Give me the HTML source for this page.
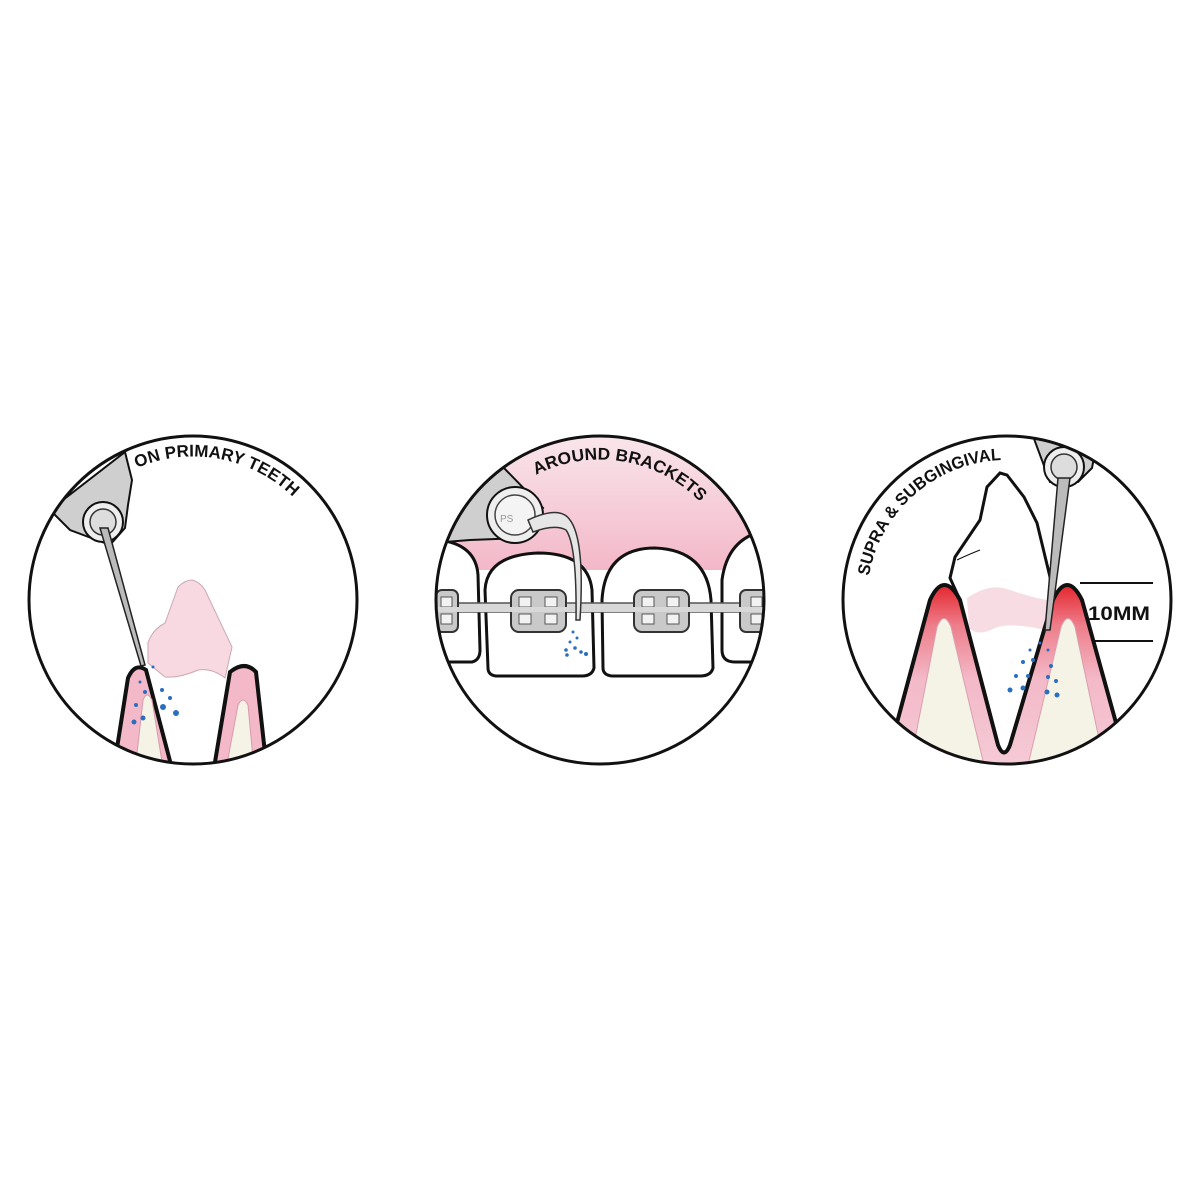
<!DOCTYPE html>
<html><head><meta charset="utf-8"><style>html,body{margin:0;padding:0;background:#fff}svg{display:block}</style></head>
<body>
<svg width="1200" height="1200" viewBox="0 0 1200 1200" xmlns="http://www.w3.org/2000/svg" font-family="Liberation Sans, sans-serif">
<defs>
<clipPath id="c1"><circle cx="193" cy="600" r="164"/></clipPath>
<clipPath id="c2"><circle cx="600" cy="600" r="164"/></clipPath>
<clipPath id="c3"><circle cx="1007" cy="600" r="164"/></clipPath>
<linearGradient id="redg" gradientUnits="userSpaceOnUse" x1="0" y1="580" x2="0" y2="760">
<stop offset="0" stop-color="#e21b22"/><stop offset="0.25" stop-color="#ee7d8a"/><stop offset="0.55" stop-color="#f3b9c8"/><stop offset="1" stop-color="#f5c9d5"/></linearGradient>
<linearGradient id="gum2" gradientUnits="userSpaceOnUse" x1="0" y1="440" x2="0" y2="570"><stop offset="0" stop-color="#f9e4ea"/><stop offset="1" stop-color="#f3b8c8"/></linearGradient>
<path id="t1" d="M137,468 A143,143 0 0 1 317,528"/>
<path id="t2" d="M536,475 A140,140 0 0 1 704,506"/>
<path id="t3" d="M869,576 A140,140 0 0 1 1012,460"/>
</defs>

<!-- LEFT -->
<g clip-path="url(#c1)">
<path d="M178,587 Q185,580 192,580 Q200,582 205,590 L232,647 L225,678 Q212,668 198,670 Q180,678 165,677 L148,663 L148,643 Q152,630 165,623 Z" fill="#f8d9e2" stroke="#c9a9b3" stroke-width="1"/>
<path d="M112,780 L128,678 Q135,662 146,670 L175,780 Z" fill="#f3b9c9" stroke="#111" stroke-width="4"/>
<path d="M134,780 L143,700 Q147,690 152,700 L165,780 Z" fill="#f5f2e6" stroke="#d79aac" stroke-width="1"/>
<path d="M212,780 L230,672 Q245,660 256,672 L268,780 Z" fill="#f3b9c9" stroke="#111" stroke-width="4"/>
<path d="M224,780 L238,705 Q243,695 248,705 L255,780 Z" fill="#f5f2e6" stroke="#d79aac" stroke-width="1"/>
<path d="M50,510 L125,452 L132,480 L128,505 L125,528 L110,545 L70,530 Z" fill="#cfcfcf" stroke="#111" stroke-width="2"/>
<circle cx="103" cy="522" r="20" fill="#eee" stroke="#111" stroke-width="2"/>
<circle cx="103" cy="522" r="13" fill="#ddd" stroke="#333" stroke-width="1.5"/>
<path d="M100,528 L108,528 L145,665 L141,666 Z" fill="#bbb" stroke="#222" stroke-width="1.5"/>
<g fill="#2a6ec0"><circle cx="134" cy="722" r="2.5"/><circle cx="143" cy="718" r="2.5"/><circle cx="136" cy="705" r="2"/><circle cx="145" cy="692" r="2"/><circle cx="163" cy="707" r="3"/><circle cx="176" cy="713" r="3"/><circle cx="162" cy="690" r="2"/><circle cx="170" cy="698" r="2"/><circle cx="140" cy="682" r="1.5"/><circle cx="153" cy="667" r="1.5"/></g>
</g>
<circle cx="193" cy="600" r="164" fill="none" stroke="#111" stroke-width="3"/>
<text font-size="17" font-weight="bold" fill="#111"><textPath href="#t1" textLength="168" lengthAdjust="spacingAndGlyphs">ON PRIMARY TEETH</textPath></text>

<!-- MIDDLE -->
<g clip-path="url(#c2)">
<rect x="430" y="430" width="340" height="140" fill="url(#gum2)"/>
<rect x="430" y="570" width="340" height="210" fill="#fff"/>
<path d="M488,668 L485,590 Q487,555 538,553 Q588,553 592,590 L594,668 Q592,676 582,676 L496,676 Q488,675 488,668 Z" fill="#fff" stroke="#111" stroke-width="3"/>
<path d="M603,668 L602,600 Q605,548 655,548 Q707,550 711,600 L713,668 Q711,676 700,676 L612,676 Q603,675 603,668 Z" fill="#fff" stroke="#111" stroke-width="3"/>
<path d="M430,662 L472,662 Q480,660 480,650 L478,575 Q476,545 440,540 L430,540 Z" fill="#fff" stroke="#111" stroke-width="3"/>
<path d="M770,530 Q728,535 722,580 L722,650 Q722,662 735,662 L770,662 Z" fill="#fff" stroke="#111" stroke-width="3"/>
<rect x="430" y="603" width="340" height="9" fill="#d8d8d8" stroke="#555" stroke-width="1.5"/>
<g stroke="#333" stroke-width="2" fill="#c9c9c9">
<rect x="511" y="590" width="55" height="42" rx="8"/>
<rect x="634" y="590" width="55" height="42" rx="8"/>
<rect x="436" y="590" width="22" height="42" rx="6"/>
<rect x="740" y="590" width="30" height="42" rx="6"/>
</g>
<g fill="#f2f2f2" stroke="#555" stroke-width="1"><rect x="519" y="597" width="12" height="10"/><rect x="545" y="597" width="12" height="10"/><rect x="519" y="614" width="12" height="10"/><rect x="545" y="614" width="12" height="10"/><rect x="642" y="597" width="12" height="10"/><rect x="667" y="597" width="12" height="10"/><rect x="642" y="614" width="12" height="10"/><rect x="667" y="614" width="12" height="10"/><rect x="441" y="597" width="11" height="10"/><rect x="441" y="614" width="11" height="10"/><rect x="751" y="597" width="11" height="10"/><rect x="751" y="614" width="11" height="10"/></g>
<rect x="430" y="607" width="340" height="5" fill="#d8d8d8"/>
<path d="M430,430 L505,430 L503,467 L543,508 L520,538 L470,540 L445,542 L430,548 Z" fill="#cfcfcf" stroke="#111" stroke-width="2"/>
<circle cx="515" cy="515" r="28" fill="#eee" stroke="#111" stroke-width="2"/>
<circle cx="515" cy="515" r="20" fill="#f4f4f4" stroke="#444" stroke-width="1.5"/>
<text x="500" y="522" font-size="10" fill="#999">PS</text>
<path d="M528,520 Q560,505 570,520 Q585,540 580,620 L576,620 Q577,545 566,530 Q555,524 533,532 Z" fill="#e6e6e6" stroke="#333" stroke-width="1.5"/>
<g fill="#2a6ec0"><circle cx="573" cy="632" r="1.5"/><circle cx="577" cy="638" r="1.5"/><circle cx="570" cy="642" r="1.5"/><circle cx="575" cy="648" r="1.8"/><circle cx="566" cy="650" r="1.8"/><circle cx="581" cy="652" r="1.8"/><circle cx="567" cy="655" r="1.8"/><circle cx="586" cy="654" r="2"/></g>
</g>
<circle cx="600" cy="600" r="164" fill="none" stroke="#111" stroke-width="3"/>
<text font-size="17" font-weight="bold" fill="#111"><textPath href="#t2" textLength="178" lengthAdjust="spacingAndGlyphs">AROUND BRACKETS</textPath></text>

<!-- RIGHT -->
<g clip-path="url(#c3)">
<path d="M895,730 L930,600 Q944,570 960,600 L998,745 Q1004,760 1010,745 L1053,600 Q1067,570 1082,600 L1118,730 L1180,800 L830,800 Z" fill="url(#redg)"/>
<path d="M905,790 L937,627 Q944,610 951,627 L990,790 Z" fill="#f5f2e6" stroke="#d7a0b0" stroke-width="1"/>
<path d="M1022,790 L1061,627 Q1068,610 1075,627 L1110,790 Z" fill="#f5f2e6" stroke="#d7a0b0" stroke-width="1"/>
<path d="M950,578 L955,557 L980,520 L987,487 L1000,473 L1007,475 L1024,497 L1037,523 L1050,577 L1053,600 L1010,745 Q1004,760 998,745 L960,600 Z" fill="#fff" stroke="#111" stroke-width="3"/>
<path d="M957,560 Q965,556 980,550" fill="none" stroke="#111" stroke-width="1.2"/>
<path d="M967,598 Q990,582 1010,590 Q1030,597 1047,600 L1045,630 Q1010,622 995,628 Q978,637 969,628 Z" fill="#f8dce4"/>
<path d="M895,730 L930,600 Q944,570 960,600 L998,745 Q1004,760 1010,745 L1053,600 Q1067,570 1082,600 L1118,730" fill="none" stroke="#111" stroke-width="4"/>
<path d="M1033,436 L1098,436 L1092,468 L1078,482 L1050,482 Z" fill="#cfcfcf" stroke="#111" stroke-width="2"/>
<circle cx="1064" cy="467" r="20" fill="#eee" stroke="#111" stroke-width="2"/>
<circle cx="1064" cy="467" r="13" fill="#ddd" stroke="#333" stroke-width="1.5"/>
<path d="M1058,478 L1070,478 L1050,630 L1045,630 Z" fill="#bbb" stroke="#222" stroke-width="1.5"/>
<g fill="#2a6ec0"><circle cx="1010" cy="690" r="2.5"/><circle cx="1023" cy="688" r="2.5"/><circle cx="1047" cy="692" r="2.5"/><circle cx="1057" cy="695" r="2.5"/><circle cx="1016" cy="676" r="2"/><circle cx="1028" cy="676" r="2"/><circle cx="1048" cy="677" r="2"/><circle cx="1056" cy="681" r="2"/><circle cx="1023" cy="662" r="2"/><circle cx="1033" cy="660" r="2"/><circle cx="1051" cy="666" r="2"/><circle cx="1030" cy="650" r="1.5"/><circle cx="1040" cy="643" r="1.5"/><circle cx="1048" cy="650" r="1.5"/></g>
</g>
<line x1="1080" y1="583" x2="1153" y2="583" stroke="#111" stroke-width="2"/>
<line x1="1092" y1="641" x2="1153" y2="641" stroke="#111" stroke-width="2"/>
<text x="1088" y="620" font-size="19" font-weight="bold" fill="#111" textLength="62" lengthAdjust="spacingAndGlyphs">10MM</text>
<circle cx="1007" cy="600" r="164" fill="none" stroke="#111" stroke-width="3"/>
<text font-size="17" font-weight="bold" fill="#111"><textPath href="#t3" textLength="190" lengthAdjust="spacingAndGlyphs">SUPRA &amp; SUBGINGIVAL</textPath></text>
</svg>
</body></html>
